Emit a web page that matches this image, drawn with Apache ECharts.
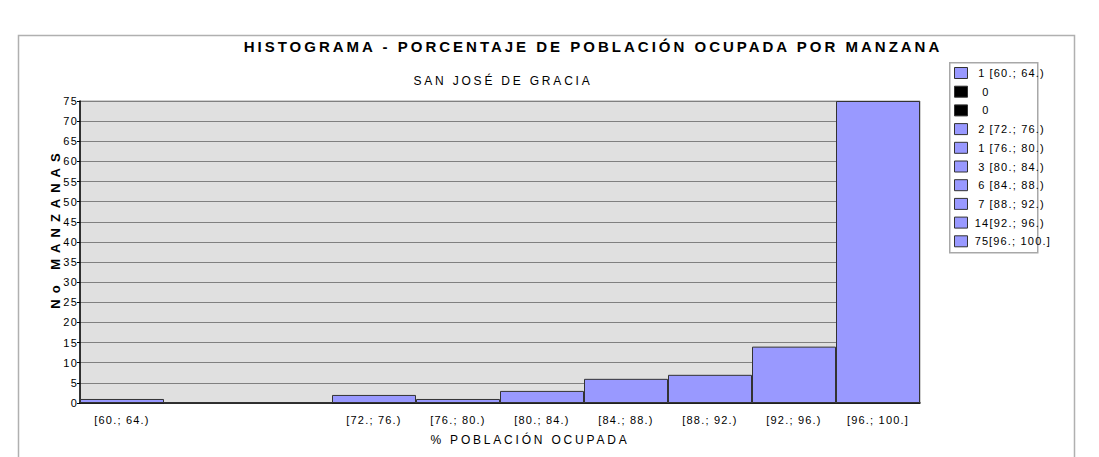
<!DOCTYPE html>
<html>
<head>
<meta charset="utf-8">
<script src="https://cdn.jsdelivr.net/npm/echarts@6/dist/echarts.min.js"></script>
<style>
  html, body { margin: 0; padding: 0; background: #fff; }
  #chart { width: 1099px; height: 457px; }
  /* espaciado entre letras como en el original */
  #chart svg text { letter-spacing: 1.2px; }
  #chart svg text[style*="12px"] { letter-spacing: 2.8px; }
  #chart svg text[style*="15px"] { letter-spacing: 3px; }
  #chart svg text[style*="13px"] { letter-spacing: 6px; }
</style>
</head>
<body>
<div id="chart"></div>
<script>
// clases del histograma
const bins = ["[60.; 64.)", "[64.; 68.)", "[68.; 72.)", "[72.; 76.)", "[76.; 80.)",
  "[80.; 84.)", "[84.; 88.)", "[88.; 92.)", "[92.; 96.)", "[96.; 100.]"];
// No de manzanas por clase
const counts = [1, 0, 0, 2, 1, 3, 6, 7, 14, 75];

const titleText = "HISTOGRAMA - PORCENTAJE DE POBLACIÓN OCUPADA POR MANZANA";
const subtitleText = "SAN JOSÉ DE GRACIA";
const xName = "% POBLACIÓN OCUPADA";
const yName = "No MANZANAS";

const font = '"Liberation Sans", Arial, sans-serif';
const barColor = "#9999ff";

const chart = echarts.init(document.getElementById("chart"), null, { renderer: "svg" });

// una serie por clase para tener una entrada de leyenda por barra
const series = counts.map((c, i) => ({
  name: bins[i],
  type: "bar",
  barWidth: "100%",
  barGap: "-100%",
  itemStyle: {
    color: c > 0 ? barColor : "#000",
    borderColor: "#333",
    borderWidth: 1,
  },
  data: bins.map((b, j) => (j === i ? c : null)),
}));

const option = {
  animation: false,
  textStyle: { fontFamily: font },
  grid: {
    left: 80,
    right: 179,
    top: 101,
    bottom: 54,
    show: true,
    backgroundColor: "#e0e0e0",
    borderColor: "#a0a0a0",
    borderWidth: 1,
  },
  legend: {
    orient: "vertical",
    left: 954,
    top: 67,
    padding: 0,
    itemWidth: 13,
    itemHeight: 11,
    itemGap: 6.7,
    icon: "rect",
    itemStyle: { borderColor: "#333", borderWidth: 1 },
    selectedMode: false,
    data: bins,
    // cantidad + clase (solo la cantidad si es 0)
    formatter: (name) => {
      const i = bins.indexOf(name);
      return "{n|" + counts[i] + "}" + (counts[i] > 0 ? "{b|" + bins[i] + "}" : "");
    },
    textStyle: {
      fontFamily: font,
      fontSize: 11,
      color: "#000",
      padding: [0, 0, 0, 2],
      rich: {
        n: { width: 15, align: "right", fontSize: 11, fontFamily: font, lineHeight: 12 },
        b: { fontSize: 11, fontFamily: font, padding: [0, 0, 0, 6], lineHeight: 12 },
      },
    },
  },
  xAxis: {
    type: "category",
    data: bins,
    axisLine: { lineStyle: { color: "#000", width: 1.5 }, z: 10 },
    axisTick: {
      alignWithLabel: true,
      length: 4,
      lineStyle: { color: "#000" },
      interval: (idx) => counts[idx] > 0,
    },
    axisLabel: {
      interval: 0,
      margin: 11,
      color: "#000",
      fontSize: 11,
      formatter: (v, idx) => (counts[idx] > 0 ? v : ""),
    },
    splitLine: { show: false },
  },
  yAxis: {
    type: "value",
    min: 0,
    max: 75,
    interval: 5,
    axisLine: { show: true, lineStyle: { color: "#000", width: 1.5 } },
    axisTick: { show: true, length: 3, lineStyle: { color: "#000" } },
    axisLabel: { margin: 2, color: "#000", fontSize: 11 },
    splitLine: { lineStyle: { color: "#808080", width: 1 } },
  },
  graphic: [
    {
      type: "rect",
      left: 16,
      top: 33,
      shape: { width: 1056, height: 460 },
      style: { fill: "none", stroke: "#b0b0b0", lineWidth: 1.5 },
      silent: true,
    },
    {
      type: "rect",
      left: 949,
      top: 62,
      z: 0,
      shape: { width: 88, height: 190 },
      style: { fill: "#fff", stroke: "#a8a8a8", lineWidth: 1.5 },
      silent: true,
    },
    {
      type: "text",
      x: 593,
      y: 46,
      style: {
        text: titleText,
        fontFamily: font,
        fontWeight: "bold",
        fontSize: 15,
        fill: "#000",
        align: "center",
        verticalAlign: "middle",
      },
    },
    {
      type: "text",
      x: 503,
      y: 81,
      style: {
        text: subtitleText,
        fontFamily: font,
        fontSize: 12,
        fill: "#000",
        align: "center",
        verticalAlign: "middle",
      },
    },
    {
      type: "text",
      x: 530,
      y: 440,
      style: {
        text: xName,
        fontFamily: font,
        fontSize: 12,
        fill: "#000",
        align: "center",
        verticalAlign: "middle",
      },
    },
    {
      type: "text",
      x: 55,
      y: 228,
      rotation: Math.PI / 2,
      style: {
        text: yName,
        fontFamily: font,
        fontWeight: "bold",
        fontSize: 13,
        fill: "#000",
        align: "center",
        verticalAlign: "middle",
      },
    },
  ],
  series: series,
};

chart.setOption(option);
</script>
</body>
</html>
